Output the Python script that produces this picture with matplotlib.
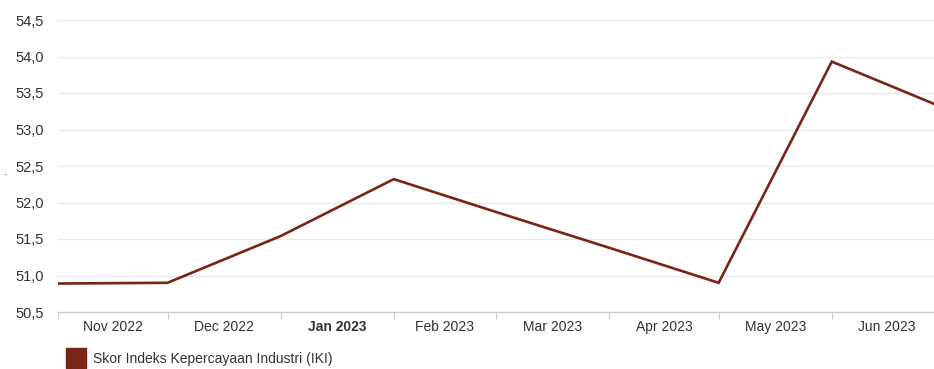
import pandas as pd
import matplotlib.pyplot as plt
from matplotlib.lines import Line2D
from matplotlib.ticker import FuncFormatter

plt.rcParams['font.family'] = ['Liberation Sans', 'DejaVu Sans']

# IKI score, plotted at the first day of each month
dates = ["2022-11-01", "2022-12-01", "2023-01-01", "2023-02-01", "2023-03-01",
         "2023-04-01", "2023-05-01", "2023-06-01", "2023-07-01"]
iki = [50.89, 50.90, 51.54, 52.32, 51.87, 51.38, 50.90, 53.93, 53.31]
month_labels = ["Nov 2022", "Dec 2022", "Jan 2023", "Feb 2023", "Mar 2023",
                "Apr 2023", "May 2023", "Jun 2023"]
series_name = "Skor Indeks Kepercayaan Industri (IKI)"

line_color = "#7a2417"
x = pd.to_datetime(dates)

fig = plt.figure(figsize=(9.34, 3.69), dpi=100)
ax = fig.add_axes([58 / 934, 1 - 312 / 369, 1 - 58 / 934, (312 - 20) / 369])

ax.plot(x, iki, color=line_color, linewidth=1.9, solid_joinstyle="miter")

ax.set_xlim(pd.Timestamp("2022-11-01"), pd.Timestamp("2023-06-29"))
ax.set_ylim(50.5, 54.5)

# y axis
ax.set_yticks([50.5 + 0.5 * i for i in range(9)])
ax.yaxis.set_major_formatter(FuncFormatter(lambda v, p: f"{v:.1f}".replace(".", ",")))
ax.tick_params(axis="y", length=0, pad=10, labelsize=10.5, labelcolor="#333333")
ax.grid(axis="y", color="#e8e8e8", linewidth=0.9)

# x axis: ticks at month starts, labels mid-month
month_starts = pd.to_datetime(dates[:-1])
ax.set_xticks(month_starts)
ax.set_xticklabels([])
ax.tick_params(axis="x", which="major", length=5, color="#cccccc", width=0.9)
mids = [s + (e - s) / 2 for s, e in zip(month_starts, pd.to_datetime(dates[1:]))]
ax.set_xticks(mids, minor=True)
ax.set_xticklabels(month_labels, minor=True)
ax.tick_params(axis="x", which="minor", length=0, pad=6, labelsize=10, labelcolor="#333333")
for lbl in ax.get_xticklabels(minor=True):
    if lbl.get_text() == "Jan 2023":
        lbl.set_fontweight("bold")

for side in ["top", "right", "left"]:
    ax.spines[side].set_visible(False)
ax.spines["bottom"].set_color("#cccccc")
ax.spines["bottom"].set_linewidth(0.9)
ax.set_axisbelow(True)

fig.text(4 / 934, 1 - 172 / 369, ".", fontsize=9, color="#333333", ha="left", va="center")

handle = Line2D([], [], linestyle="none", marker="s", markersize=14,
                markerfacecolor=line_color, markeredgecolor=line_color)
fig.legend([handle], [series_name], loc="center left",
           bbox_to_anchor=(50 / 934, 1 - 359 / 369), frameon=False,
           fontsize=10, handletextpad=0.2, labelcolor="#333333")

fig.savefig("out.png", dpi=100)
